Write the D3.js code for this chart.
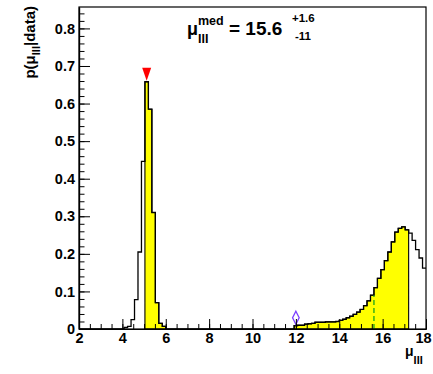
<!DOCTYPE html>
<html>
<head>
<meta charset="utf-8">
<script src="https://cdn.jsdelivr.net/npm/d3@7"></script>
<style>
  body { margin: 0; background: #fff; }
  svg text { font-family: "Liberation Sans", Arial, Helvetica, sans-serif; font-weight: bold; fill: #000; }
</style>
</head>
<body>
<svg id="chart" width="433" height="374"></svg>
<script>
// Posterior histogram of mu_III: 100 bins of width 0.16 on [2, 18]
const histRange = [2, 18];
const binWidth = 0.16;

// Low-mass mode (bins starting at 4.08)
const lowModeStart = 4.08;
const lowModeValues = [0.004, 0.007, 0.025, 0.078, 0.205, 0.446, 0.658, 0.585, 0.310, 0.070, 0.015, 0.007];

// High-mass mode (bins starting at 11.92)
const highModeStart = 11.92;
const highModeValues = [
  0.009, 0.010, 0.010, 0.013, 0.014, 0.015, 0.018, 0.018, 0.018, 0.019, 0.019, 0.019, 0.020,
  0.023, 0.026, 0.030, 0.034, 0.039, 0.045, 0.052, 0.062, 0.075, 0.090,
  0.110, 0.135, 0.158, 0.182, 0.205, 0.232, 0.258, 0.268, 0.272, 0.264,
  0.255, 0.236, 0.211, 0.189, 0.162
];

// Shaded credible regions
const credibleRanges = [[5.04, 6.00], [11.92, 17.20]];

// Summary values
const medianValue = 15.6;
const errPlus = "+1.6";
const errMinus = "-11";
const lowerMarker = [12.0, 0.03];

// Axis ticks
const xMajorTicks = [2, 4, 6, 8, 10, 12, 14, 16, 18];
const yMajorTicks = [0, 0.1, 0.2, 0.3, 0.4, 0.5, 0.6, 0.7, 0.8];
const yMax = 0.857;

// ---- build bins ----
const nBins = Math.round((histRange[1] - histRange[0]) / binWidth);
const bins = d3.range(nBins).map(i => ({
  x0: histRange[0] + i * binWidth,
  x1: histRange[0] + (i + 1) * binWidth,
  v: 0
}));
function fill(start, values) {
  const i0 = Math.round((start - histRange[0]) / binWidth);
  values.forEach((v, j) => { bins[i0 + j].v = v; });
}
fill(lowModeStart, lowModeValues);
fill(highModeStart, highModeValues);

// ---- layout ----
const svg = d3.select("#chart");
const frame = { left: 79, right: 426, top: 7, bottom: 329 };
const x = d3.scaleLinear().domain(histRange).range([frame.left, frame.right]);
const y = d3.scaleLinear().domain([0, yMax]).range([frame.bottom, frame.top]);

// ---- shaded regions ----
credibleRanges.forEach(([a, b]) => {
  const sel = bins.filter(d => d.x0 >= a - 1e-6 && d.x1 <= b + 1e-6);
  const pts = [[x(a), y(0)]];
  sel.forEach(d => { pts.push([x(d.x0), y(d.v)], [x(d.x1), y(d.v)]); });
  pts.push([x(b), y(0)]);
  svg.append("path")
    .attr("d", d3.line()(pts) + "Z")
    .attr("fill", "#ffff00")
    .attr("stroke", "#000")
    .attr("stroke-width", 1.1);
});

// ---- histogram outline ----
const outline = [];
bins.forEach(d => { outline.push([x(d.x0), y(d.v)], [x(d.x1), y(d.v)]); });
svg.append("path")
  .attr("d", d3.line()(outline))
  .attr("fill", "none")
  .attr("stroke", "#000")
  .attr("stroke-width", 1.3);

// ---- median line ----
const medIdx = Math.floor((medianValue - histRange[0]) / binWidth - 1e-6);
svg.append("line")
  .attr("x1", x(medianValue)).attr("x2", x(medianValue))
  .attr("y1", y(0)).attr("y2", y(bins[medIdx].v))
  .attr("stroke", "#1aa51a")
  .attr("stroke-width", 1.3)
  .attr("stroke-dasharray", "5,3");

// ---- mode marker (red down triangle) ----
const modeBin = bins.reduce((m, d) => d.v > m.v ? d : m, bins[0]);
svg.append("path")
  .attr("transform", `translate(${x((modeBin.x0 + modeBin.x1) / 2)},${y(modeBin.v) - 1})`)
  .attr("d", "M-4.5,-13L4.5,-13L0,0Z")
  .attr("fill", "#ff0000");

// ---- lower marker (open diamond) ----
svg.append("path")
  .attr("transform", `translate(${x(lowerMarker[0])},${y(lowerMarker[1])})`)
  .attr("d", "M0,-6.5L3.3,0L0,6.5L-3.3,0Z")
  .attr("fill", "none")
  .attr("stroke", "#7b3fff")
  .attr("stroke-width", 1.3);

// ---- axes ----
const fmtY = d => d === 0 ? "0" : d.toFixed(1);

const gx = svg.append("g").attr("transform", `translate(0,${frame.bottom})`);
gx.call(d3.axisBottom(x).tickValues(d3.range(2, 18.001, 0.5)).tickSizeInner(-5).tickSizeOuter(0).tickFormat(""));
gx.call(g => g.selectAll("text").remove());
const gxMaj = svg.append("g").attr("transform", `translate(0,${frame.bottom})`);
gxMaj.call(d3.axisBottom(x).tickValues(xMajorTicks).tickSizeInner(-10).tickSizeOuter(0).tickPadding(4).tickFormat(d3.format("d")));
// keep the last label inside the page edge
gxMaj.selectAll(".tick text").filter(d => d === histRange[1]).attr("dx", -3);

const gy = svg.append("g").attr("transform", `translate(${frame.left},0)`);
gy.call(d3.axisLeft(y).tickValues(d3.range(0, 0.8501, 0.02)).tickSizeInner(-5.5).tickSizeOuter(0).tickFormat(""));
const gyMaj = svg.append("g").attr("transform", `translate(${frame.left},0)`);
gyMaj.call(d3.axisLeft(y).tickValues(yMajorTicks).tickSizeInner(-11).tickSizeOuter(0).tickPadding(4).tickFormat(fmtY));

svg.selectAll(".tick line").attr("stroke", "#000").attr("stroke-width", 1);
svg.selectAll(".domain").attr("stroke", "#000").attr("stroke-width", 1.2);
svg.selectAll(".tick text").style("font-size", "14.5px").attr("fill", "#000");

// ---- frame ----
svg.append("rect")
  .attr("x", frame.left).attr("y", frame.top)
  .attr("width", frame.right - frame.left).attr("height", frame.bottom - frame.top)
  .attr("fill", "none").attr("stroke", "#000").attr("stroke-width", 1.2);

// ---- axis titles ----
const xt = svg.append("text").attr("x", 405).attr("y", 356).attr("font-size", 14);
xt.append("tspan").text("μ");
xt.append("tspan").attr("dy", 8).attr("font-size", 11).text("III");

const yt = svg.append("text")
  .attr("transform", "translate(35,6) rotate(-90)")
  .attr("text-anchor", "end")
  .attr("font-size", 15);
yt.append("tspan").text("p(μ");
yt.append("tspan").attr("dy", 5).attr("font-size", 11).text("III");
yt.append("tspan").attr("dy", -5).text("|data)");

// ---- summary label ----
svg.append("text").attr("x", 187).attr("y", 35).attr("font-size", 18).text("μ");
svg.append("text").attr("x", 198).attr("y", 25).attr("font-size", 12.5).text("med");
svg.append("text").attr("x", 198).attr("y", 43).attr("font-size", 12.5).text("III");
svg.append("text").attr("x", 229).attr("y", 35).attr("font-size", 19).text("= " + medianValue.toFixed(1));
svg.append("text").attr("x", 292).attr("y", 22).attr("font-size", 11.5).text(errPlus);
svg.append("text").attr("x", 295).attr("y", 40).attr("font-size", 11.5).text(errMinus);
</script>
</body>
</html>
